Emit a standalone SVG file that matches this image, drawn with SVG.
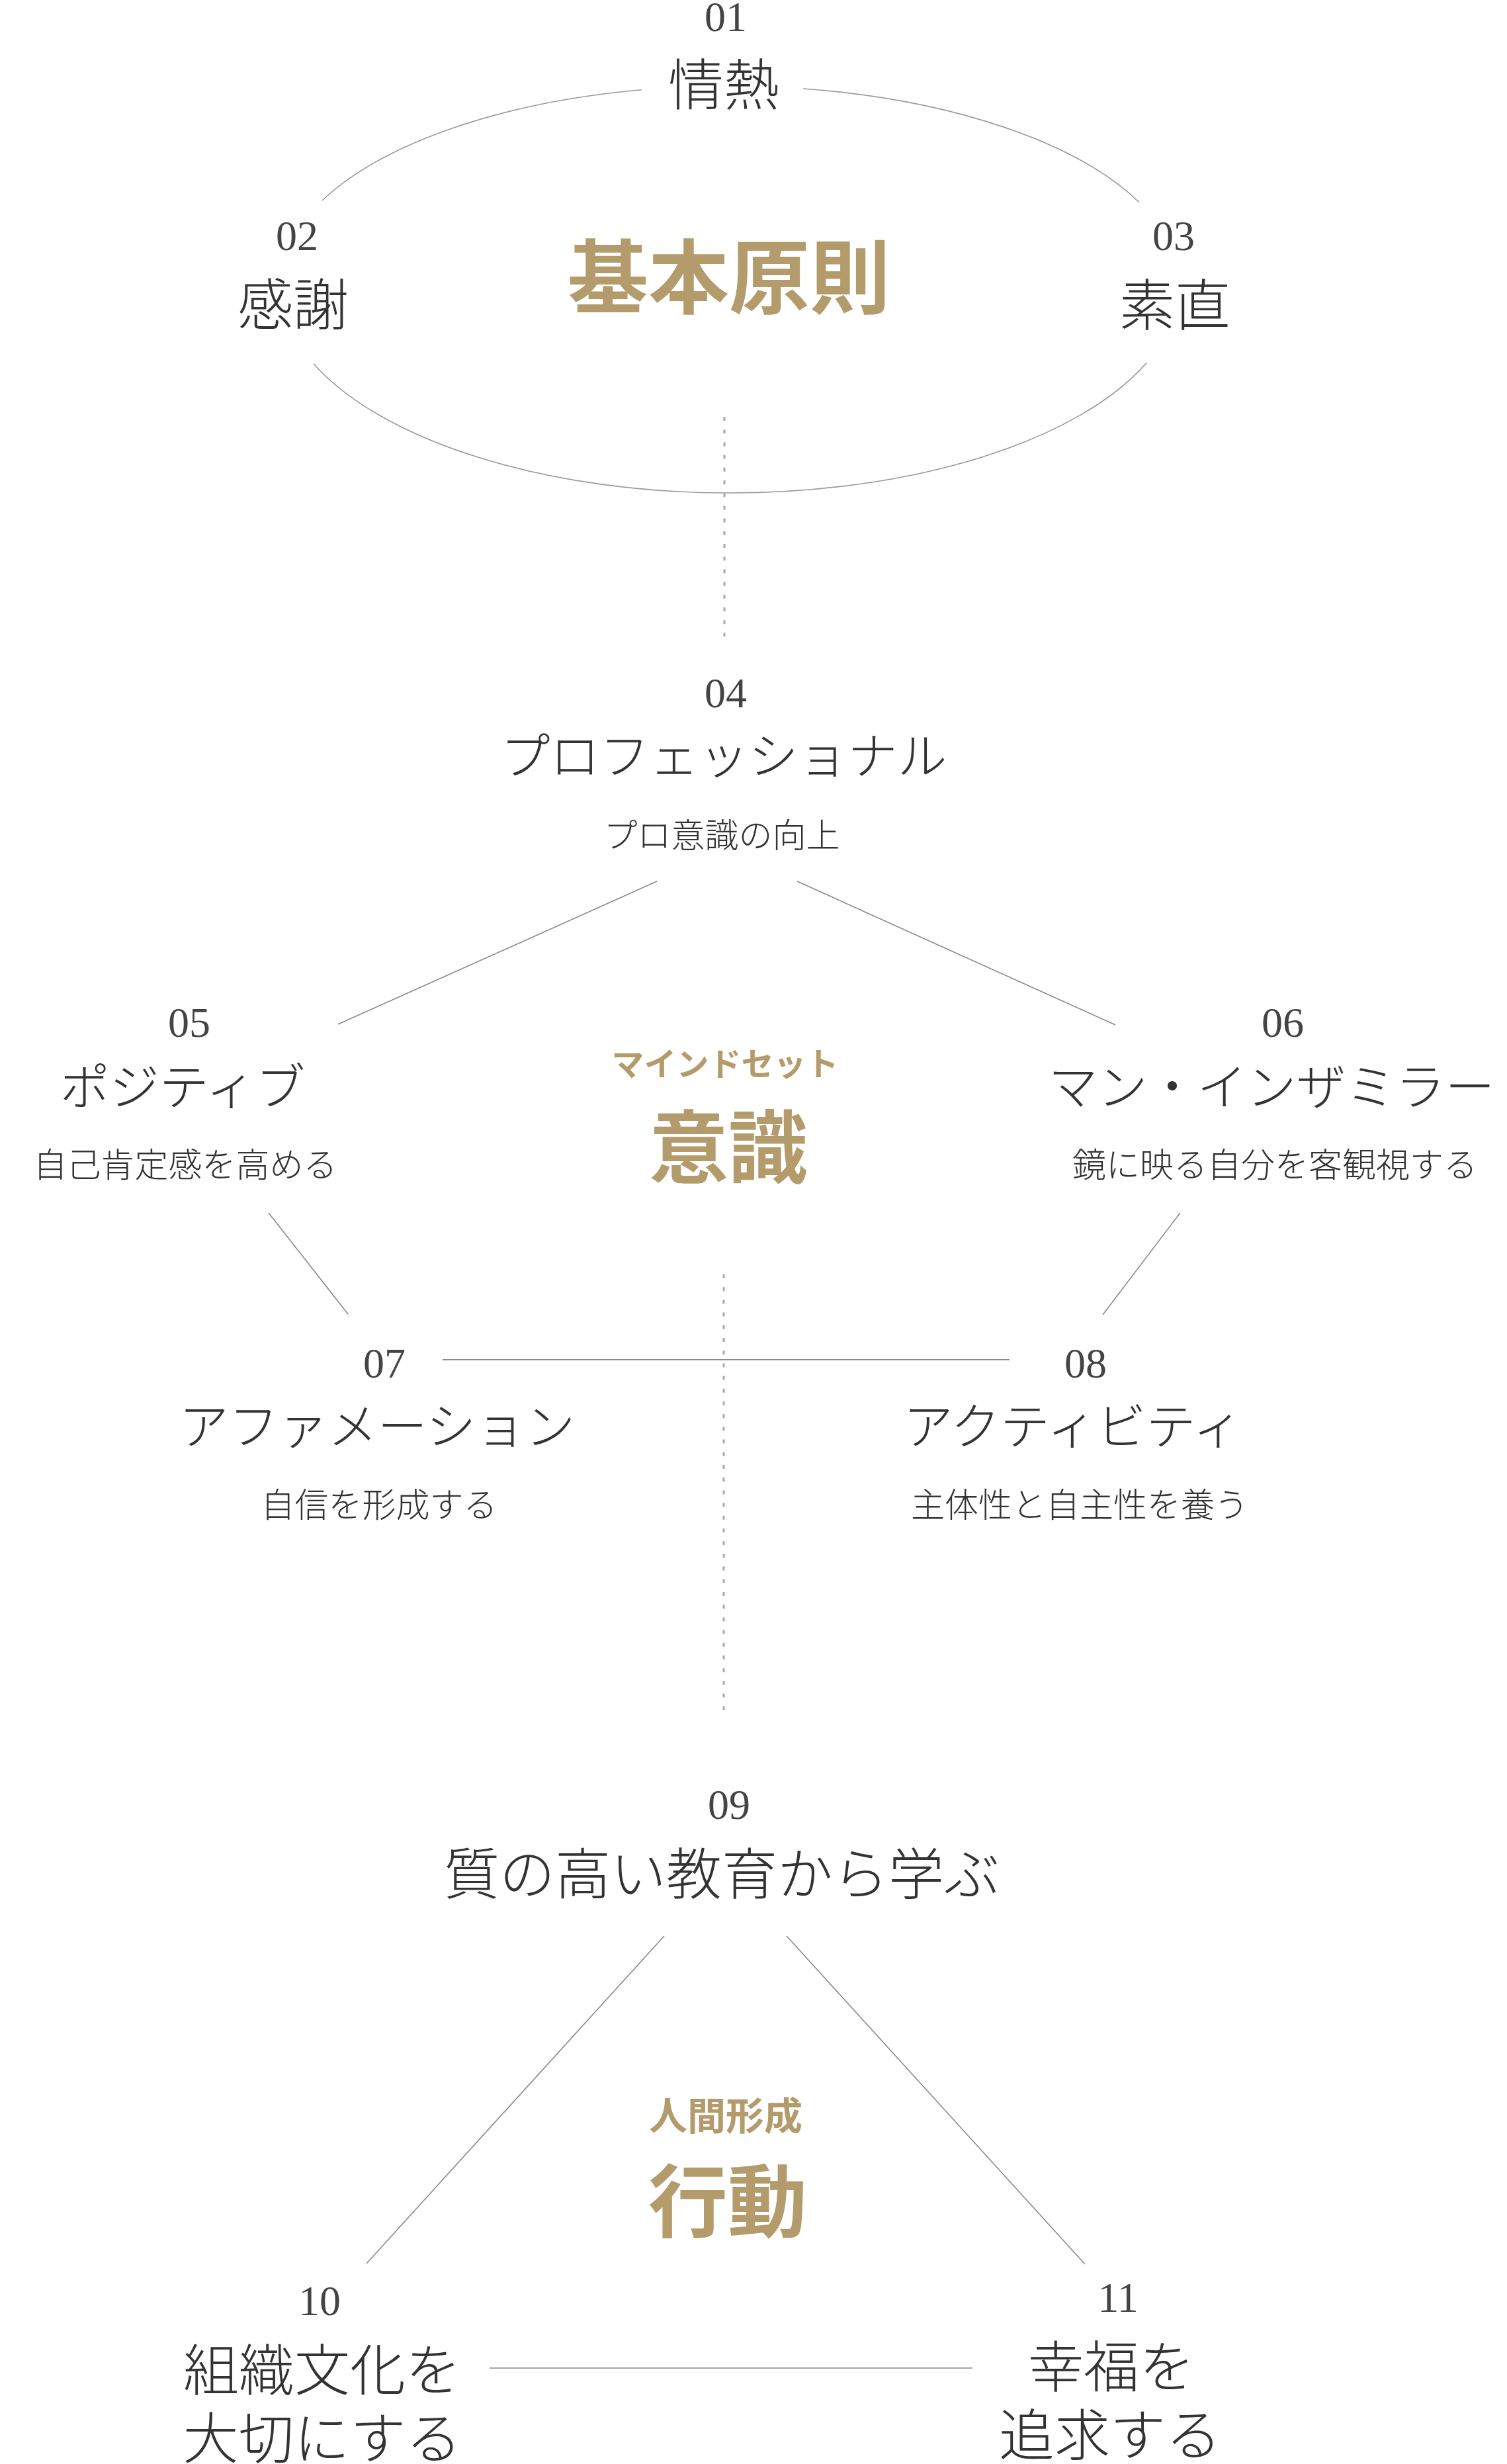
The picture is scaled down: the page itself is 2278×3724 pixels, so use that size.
<svg xmlns="http://www.w3.org/2000/svg" width="2278" height="3724" viewBox="0 0 2278 3724">
<style>
.num{font-family:"Liberation Serif","Times New Roman",serif;font-size:64px;fill:#444;text-anchor:middle}
.t{font-family:"Noto Sans CJK JP","Noto Sans",sans-serif;font-weight:300;fill:#333;text-anchor:middle}
.big{font-size:84px}
.kt{font-size:75px}
.sub{font-size:51px}
.g{font-family:"Noto Sans CJK JP","Noto Sans",sans-serif;font-weight:700;fill:#b49b6c;text-anchor:middle}
.gl{font-size:120px}
.ln{stroke:#8a8a8a;stroke-width:1.6;fill:none}
.arc{stroke:#9a9a9a;stroke-width:1.6;fill:none}
.dot{stroke:#a8a8a8;stroke-width:3;stroke-dasharray:6 13.2;stroke-linecap:butt;fill:none}
</style>
<rect width="2278" height="3724" fill="#fff"/>
<g id="connectors">
<path class="arc" d="M970,135.8 A680,300 0 0 0 487,303"/>
<path class="arc" d="M1214,134 A680,300 0 0 1 1722,305.8"/>
<path class="arc" d="M474,549.7 A680,315 0 0 0 1733,548.6"/>
<line class="dot" x1="1095" y1="630" x2="1095" y2="962"/>
<line class="ln" x1="993" y1="1332" x2="511" y2="1548"/>
<line class="ln" x1="1205" y1="1332" x2="1686" y2="1549"/>
<line class="ln" x1="406" y1="1833" x2="526" y2="1986"/>
<line class="ln" x1="1784" y1="1833" x2="1667" y2="1987"/>
<line class="ln" x1="669" y1="2055" x2="1526" y2="2055" style="stroke-width:2.2"/>
<line class="dot" x1="1094" y1="1926" x2="1094" y2="2590"/>
<line class="ln" x1="1004" y1="2926" x2="554" y2="3421"/>
<line class="ln" x1="1189" y1="2926" x2="1640" y2="3422"/>
<line class="ln" x1="740" y1="3579" x2="1470" y2="3579"/>
</g>
<g id="n01"><text class="num" x="1097" y="47">01</text><text class="t big" x="1094" y="159">情熱</text></g>
<g id="n02"><text class="num" x="449" y="378">02</text><text class="t big" x="443" y="491">感謝</text></g>
<g id="n03"><text class="num" x="1774" y="378">03</text><text class="t big" x="1776" y="492">素直</text></g>
<g id="center1"><text class="g" x="1102" y="464" style="font-size:122px">基本原則</text></g>
<g id="n04"><text class="num" x="1097" y="1069">04</text><text class="t kt" x="1094" y="1170">プロフェッショナル</text><text class="t sub" x="1091" y="1281">プロ意識の向上</text></g>
<g id="n05"><text class="num" x="286" y="1567">05</text><text class="t kt" x="276" y="1670">ポジティブ</text><text class="t sub" x="280" y="1779">自己肯定感を高める</text></g>
<g id="n06"><text class="num" x="1939" y="1567">06</text><text class="t kt" x="1922" y="1670">マン・インザミラー</text><text class="t sub" x="1927" y="1779">鏡に映る自分を客観視する</text></g>
<g id="center2"><text class="g" x="1096" y="1626" style="font-size:49px">マインドセット</text><text class="g gl" x="1101" y="1779">意識</text></g>
<g id="n07"><text class="num" x="581" y="2082">07</text><text class="t kt" x="570" y="2183">アファメーション</text><text class="t sub" x="573" y="2293">自信を形成する</text></g>
<g id="n08"><text class="num" x="1641" y="2082">08</text><text class="t kt" x="1622" y="2183">アクティビティ</text><text class="t sub" x="1632" y="2293">主体性と自主性を養う</text></g>
<g id="n09"><text class="num" x="1102" y="2749">09</text><text class="t big" x="1091" y="2863">質の高い教育から学ぶ</text></g>
<g id="center3"><text class="g" x="1097" y="3219" style="font-size:58px">人間形成</text><text class="g gl" x="1100" y="3372">行動</text></g>
<g id="n10"><text class="num" x="483" y="3499">10</text><text class="t big" x="487" y="3613">組織文化を</text><text class="t big" x="487" y="3716">大切にする</text></g>
<g id="n11"><text class="num" x="1690" y="3494">11</text><text class="t big" x="1680" y="3608">幸福を</text><text class="t big" x="1678" y="3711">追求する</text></g>
</svg>
